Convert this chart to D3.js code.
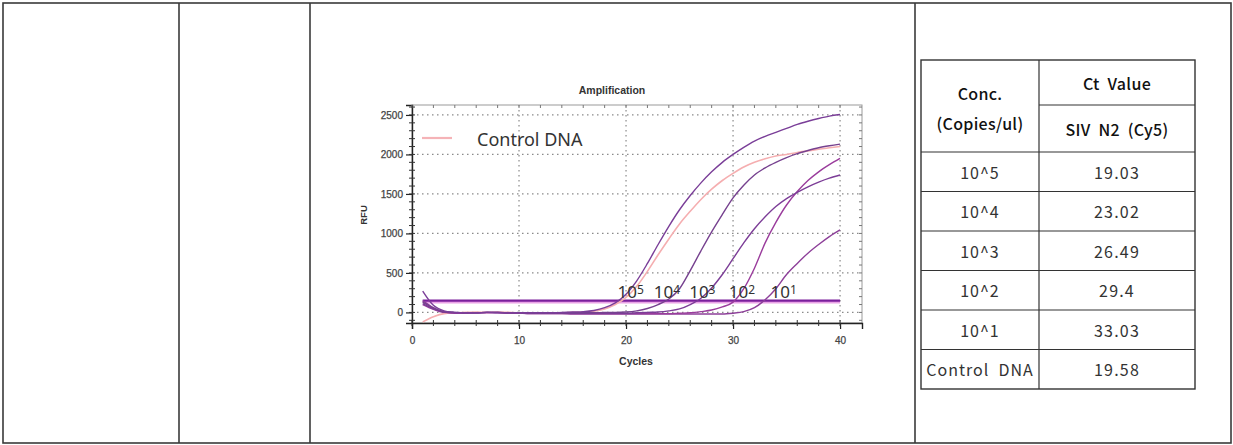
<!DOCTYPE html>
<html>
<head>
<meta charset="utf-8">
<script src="https://cdn.jsdelivr.net/npm/d3@7"></script>
<style>
  html, body { margin: 0; padding: 0; background: #fff; }
  svg { display: block; }
</style>
</head>
<body>
<svg id="page" width="1233" height="445"></svg>
<script>
// ---- data -------------------------------------------------------------
const cycles = [1,2,3,4,5,6,7,8,9,10,11,12,13,14,15,16,17,18,19,20,
                21,22,23,24,25,26,27,28,29,30,31,32,33,34,35,36,37,38,39,40];

const rfu1e5 = [270,90,20,0,-5,-5,0,-5,-5,-5,-5,-5,-5,0,5,10,25,60,120,230,
                400,620,860,1090,1300,1480,1640,1780,1900,2000,2090,2170,2230,2280,2330,2380,2420,2455,2485,2505];
const rfu1e4 = [130,55,10,0,-5,-5,0,0,-5,-5,-5,-5,-5,-5,-5,-5,-5,0,0,5,
                20,50,100,170,300,530,780,1020,1240,1450,1610,1740,1830,1900,1960,2010,2050,2085,2110,2130];
const rfu1e3 = [110,45,5,-5,-5,-5,0,0,-5,-5,-10,-10,-10,-10,-10,-10,-10,-10,-10,-10,
                -5,0,5,20,45,100,180,310,480,680,880,1060,1210,1340,1440,1520,1590,1650,1700,1740];
const rfu1e2 = [100,40,0,-10,-10,-5,-5,-5,-10,-10,-15,-15,-15,-15,-15,-15,-15,-15,-15,-15,
                -15,-15,-15,-15,-10,-5,10,30,70,130,300,560,880,1140,1360,1530,1670,1780,1870,1950];
const rfu1e1 = [150,60,5,-5,-5,-5,0,0,-5,-10,-15,-15,-15,-15,-20,-20,-20,-20,-20,-20,
                -20,-20,-20,-20,-20,-20,-20,-20,-20,-10,10,60,160,300,480,620,750,860,960,1045];
const rfuControl = [-120,-55,-15,-5,0,5,0,5,0,-5,-5,-5,-5,-5,0,5,15,45,100,190,
                    330,520,730,930,1120,1280,1430,1560,1670,1760,1840,1900,1945,1980,2000,2025,2045,2065,2085,2100];

const thresholds = [130, 150];

const xTicks = [0, 10, 20, 30, 40];
const yTicks = [0, 500, 1000, 1500, 2000, 2500];

// dilution labels written on the plot: exponent and the cycle they sit at
const dilutionExps = ["5", "4", "3", "2", "1"];
const dilutionAt = [19.2, 22.6, 25.9, 29.6, 33.5];

// Ct table
const concLabels = ["10^5", "10^4", "10^3", "10^2", "10^1", "Control  DNA"];
const ctValues = ["19.03", "23.02", "26.49", "29.4", "33.03", "19.58"];

// ---- page frame (outer table) ------------------------------------------
const svg = d3.select("#page");
const frame = svg.append("g");
const outerCols = [3, 179, 310, 915, 1231];
frame.append("rect").attr("x", 3).attr("y", 3).attr("width", 1228).attr("height", 440)
  .attr("fill", "none").attr("stroke", "#3a3a3a").attr("stroke-width", 1.6);
outerCols.slice(1, -1).forEach(x => {
  frame.append("line").attr("x1", x).attr("x2", x).attr("y1", 3).attr("y2", 443)
    .attr("stroke", "#3a3a3a").attr("stroke-width", 1.6);
});

// ---- amplification plot ------------------------------------------------
const plot = { left: 412, right: 862, top: 105, bottom: 323 };
const x = d3.scaleLinear().domain([0, 42.05]).range([plot.left, plot.right]);
const y = d3.scaleLinear().domain([-134, 2626]).range([plot.bottom, plot.top]);

const g = svg.append("g");
const tickFont = "Liberation Sans, Arial, sans-serif";

// dotted grid
g.append("g").selectAll("line").data(yTicks).join("line")
  .attr("x1", plot.left).attr("x2", plot.right)
  .attr("y1", d => y(d)).attr("y2", d => y(d))
  .attr("stroke", "#8a8a8a").attr("stroke-width", 1.2).attr("stroke-dasharray", "1.5,3.5");
g.append("g").selectAll("line").data(xTicks.slice(1)).join("line")
  .attr("x1", d => x(d)).attr("x2", d => x(d))
  .attr("y1", plot.top).attr("y2", plot.bottom)
  .attr("stroke", "#8a8a8a").attr("stroke-width", 1.2).attr("stroke-dasharray", "1.5,3.5");

// plot border
g.append("rect").attr("x", plot.left).attr("y", plot.top)
  .attr("width", plot.right - plot.left).attr("height", plot.bottom - plot.top)
  .attr("fill", "none").attr("stroke", "#9a9a9a").attr("stroke-width", 1);

// axes
const xAxis = d3.axisBottom(x).tickValues(xTicks).tickSize(6).tickPadding(8).tickFormat(d3.format("d"));
const yAxis = d3.axisLeft(y).tickValues(yTicks).tickSize(6).tickPadding(3).tickFormat(d3.format("d"));
const gx = g.append("g").attr("transform", `translate(0,${plot.bottom})`).call(xAxis);
const gy = g.append("g").attr("transform", `translate(${plot.left},0)`).call(yAxis);
[gx, gy].forEach(a => {
  a.select(".domain").attr("stroke", "#222").attr("stroke-width", 1.4);
  a.selectAll(".tick line").attr("stroke", "#222").attr("stroke-width", 1.2);
  a.selectAll(".tick text").attr("font-family", tickFont).attr("font-size", 10)
    .attr("fill", "#444").attr("stroke", "#444").attr("stroke-width", 0.25);
});

// minor ticks along the four sides
const minorX = d3.range(0, 42, 2);
const minorY = d3.range(-100, 2601, 100);
const minor = g.append("g").attr("stroke", "#333").attr("stroke-width", 1);
minor.selectAll(".mxb").data(minorX).join("line").attr("class", "mxb")
  .attr("x1", d => x(d)).attr("x2", d => x(d)).attr("y1", plot.bottom - 3).attr("y2", plot.bottom + 3);
minor.selectAll(".mxt").data(minorX).join("line").attr("class", "mxt")
  .attr("x1", d => x(d)).attr("x2", d => x(d)).attr("y1", plot.top).attr("y2", plot.top + 3)
  .attr("stroke", "#777");
minor.selectAll(".myl").data(minorY).join("line").attr("class", "myl")
  .attr("x1", plot.left - 3).attr("x2", plot.left + 3).attr("y1", d => y(d)).attr("y2", d => y(d));
minor.selectAll(".myr").data(minorY).join("line").attr("class", "myr")
  .attr("x1", plot.right - 3).attr("x2", plot.right).attr("y1", d => y(d)).attr("y2", d => y(d))
  .attr("stroke", "#777");

// titles
g.append("text").attr("x", 612).attr("y", 94).attr("text-anchor", "middle")
  .attr("font-family", tickFont).attr("font-size", 10.5).attr("font-weight", "bold").attr("fill", "#333")
  .text("Amplification");
g.append("text").attr("x", 636).attr("y", 365).attr("text-anchor", "middle")
  .attr("font-family", tickFont).attr("font-size", 10.5).attr("font-weight", "bold").attr("fill", "#333")
  .text("Cycles");
g.append("text").attr("transform", "translate(367,215) rotate(-90)").attr("text-anchor", "middle")
  .attr("font-family", tickFont).attr("font-size", 9.5).attr("font-weight", "bold").attr("fill", "#333")
  .text("RFU");

// threshold lines
g.append("line").attr("x1", x(1)).attr("x2", x(40))
  .attr("y1", y(thresholds[0])).attr("y2", y(thresholds[0]))
  .attr("stroke", "#e9a2e6").attr("stroke-width", 2.5);
g.append("line").attr("x1", x(1)).attr("x2", x(40))
  .attr("y1", y(thresholds[1])).attr("y2", y(thresholds[1]))
  .attr("stroke", "#7a1f9c").attr("stroke-width", 2.2);

// amplification curves
const line = d3.line().x((d, i) => x(cycles[i])).y(d => y(d)).curve(d3.curveMonotoneX);
const samples = [
  { values: rfuControl, color: "#f5aeb0", width: 1.6 },
  { values: rfu1e1, color: "#8d3f99", width: 1.4 },
  { values: rfu1e2, color: "#9a3c9c", width: 1.4 },
  { values: rfu1e3, color: "#7c3d97", width: 1.4 },
  { values: rfu1e4, color: "#76418f", width: 1.4 },
  { values: rfu1e5, color: "#7a3e98", width: 1.4 }
];
g.append("g").selectAll("path").data(samples).join("path")
  .attr("d", s => line(s.values))
  .attr("fill", "none").attr("stroke", s => s.color).attr("stroke-width", s => s.width)
  .attr("stroke-linejoin", "round");

// legend
g.append("line").attr("x1", 422).attr("x2", 452).attr("y1", 138).attr("y2", 138)
  .attr("stroke", "#f5b3b7").attr("stroke-width", 2.2);
g.append("text").attr("x", 477).attr("y", 146).attr("font-family", "Noto Sans, sans-serif")
  .attr("font-size", 18).attr("fill", "#333").text("Control DNA");

// dilution labels
const lab = g.append("g").selectAll("text").data(dilutionExps).join("text")
  .attr("x", (d, i) => x(dilutionAt[i])).attr("y", 298)
  .attr("font-family", "Noto Sans, sans-serif").attr("font-size", 17).attr("fill", "#333");
lab.append("tspan").text("10");
lab.append("tspan").attr("font-size", 12).attr("dy", -4).text(d => d);

// ---- Ct table ----------------------------------------------------------
const tbl = { left: 921, mid: 1039, right: 1195, top: 60, sub: 105, head: 152, bottom: 389 };
const rowH = (tbl.bottom - tbl.head) / concLabels.length;
const t = svg.append("g");
const tStroke = "#333";
t.append("rect").attr("x", tbl.left).attr("y", tbl.top)
  .attr("width", tbl.right - tbl.left).attr("height", tbl.bottom - tbl.top)
  .attr("fill", "none").attr("stroke", tStroke).attr("stroke-width", 1.4);
t.append("line").attr("x1", tbl.mid).attr("x2", tbl.mid).attr("y1", tbl.top).attr("y2", tbl.bottom)
  .attr("stroke", tStroke).attr("stroke-width", 1.2);
t.append("line").attr("x1", tbl.mid).attr("x2", tbl.right).attr("y1", tbl.sub).attr("y2", tbl.sub)
  .attr("stroke", tStroke).attr("stroke-width", 1.2);
t.selectAll(".rowline").data(d3.range(concLabels.length)).join("line").attr("class", "rowline")
  .attr("x1", tbl.left).attr("x2", tbl.right)
  .attr("y1", i => tbl.head + i * rowH).attr("y2", i => tbl.head + i * rowH)
  .attr("stroke", tStroke).attr("stroke-width", 1.2);

const cellFont = "Noto Sans CJK KR, sans-serif";
const cx1 = (tbl.left + tbl.mid) / 2, cx2 = (tbl.mid + tbl.right) / 2;
function cell(xc, yc, txt, weight, color, spacing) {
  t.append("text").attr("x", xc).attr("y", yc).attr("text-anchor", "middle")
    .attr("dominant-baseline", "central").attr("font-family", cellFont)
    .attr("font-size", 16).attr("font-weight", weight).attr("fill", color)
    .attr("letter-spacing", spacing)
    .attr("xml:space", "preserve").style("white-space", "pre").text(txt);
}
cell(cx1, 93, "Conc.", 500, "#111", 0.3);
cell(cx1, 123, "(Copies/ul)", 500, "#111", 0.3);
cell(cx2, 83, "Ct  Value", 500, "#111", 0.3);
cell(cx2, 129, "SIV  N2  (Cy5)", 500, "#111", 0.3);
concLabels.forEach((c, i) => {
  const yc = tbl.head + (i + 0.5) * rowH;
  cell(cx1, yc, c, 400, "#333", 1);
  cell(cx2, yc, ctValues[i], 400, "#333", 1.2);
});
</script>
</body>
</html>
